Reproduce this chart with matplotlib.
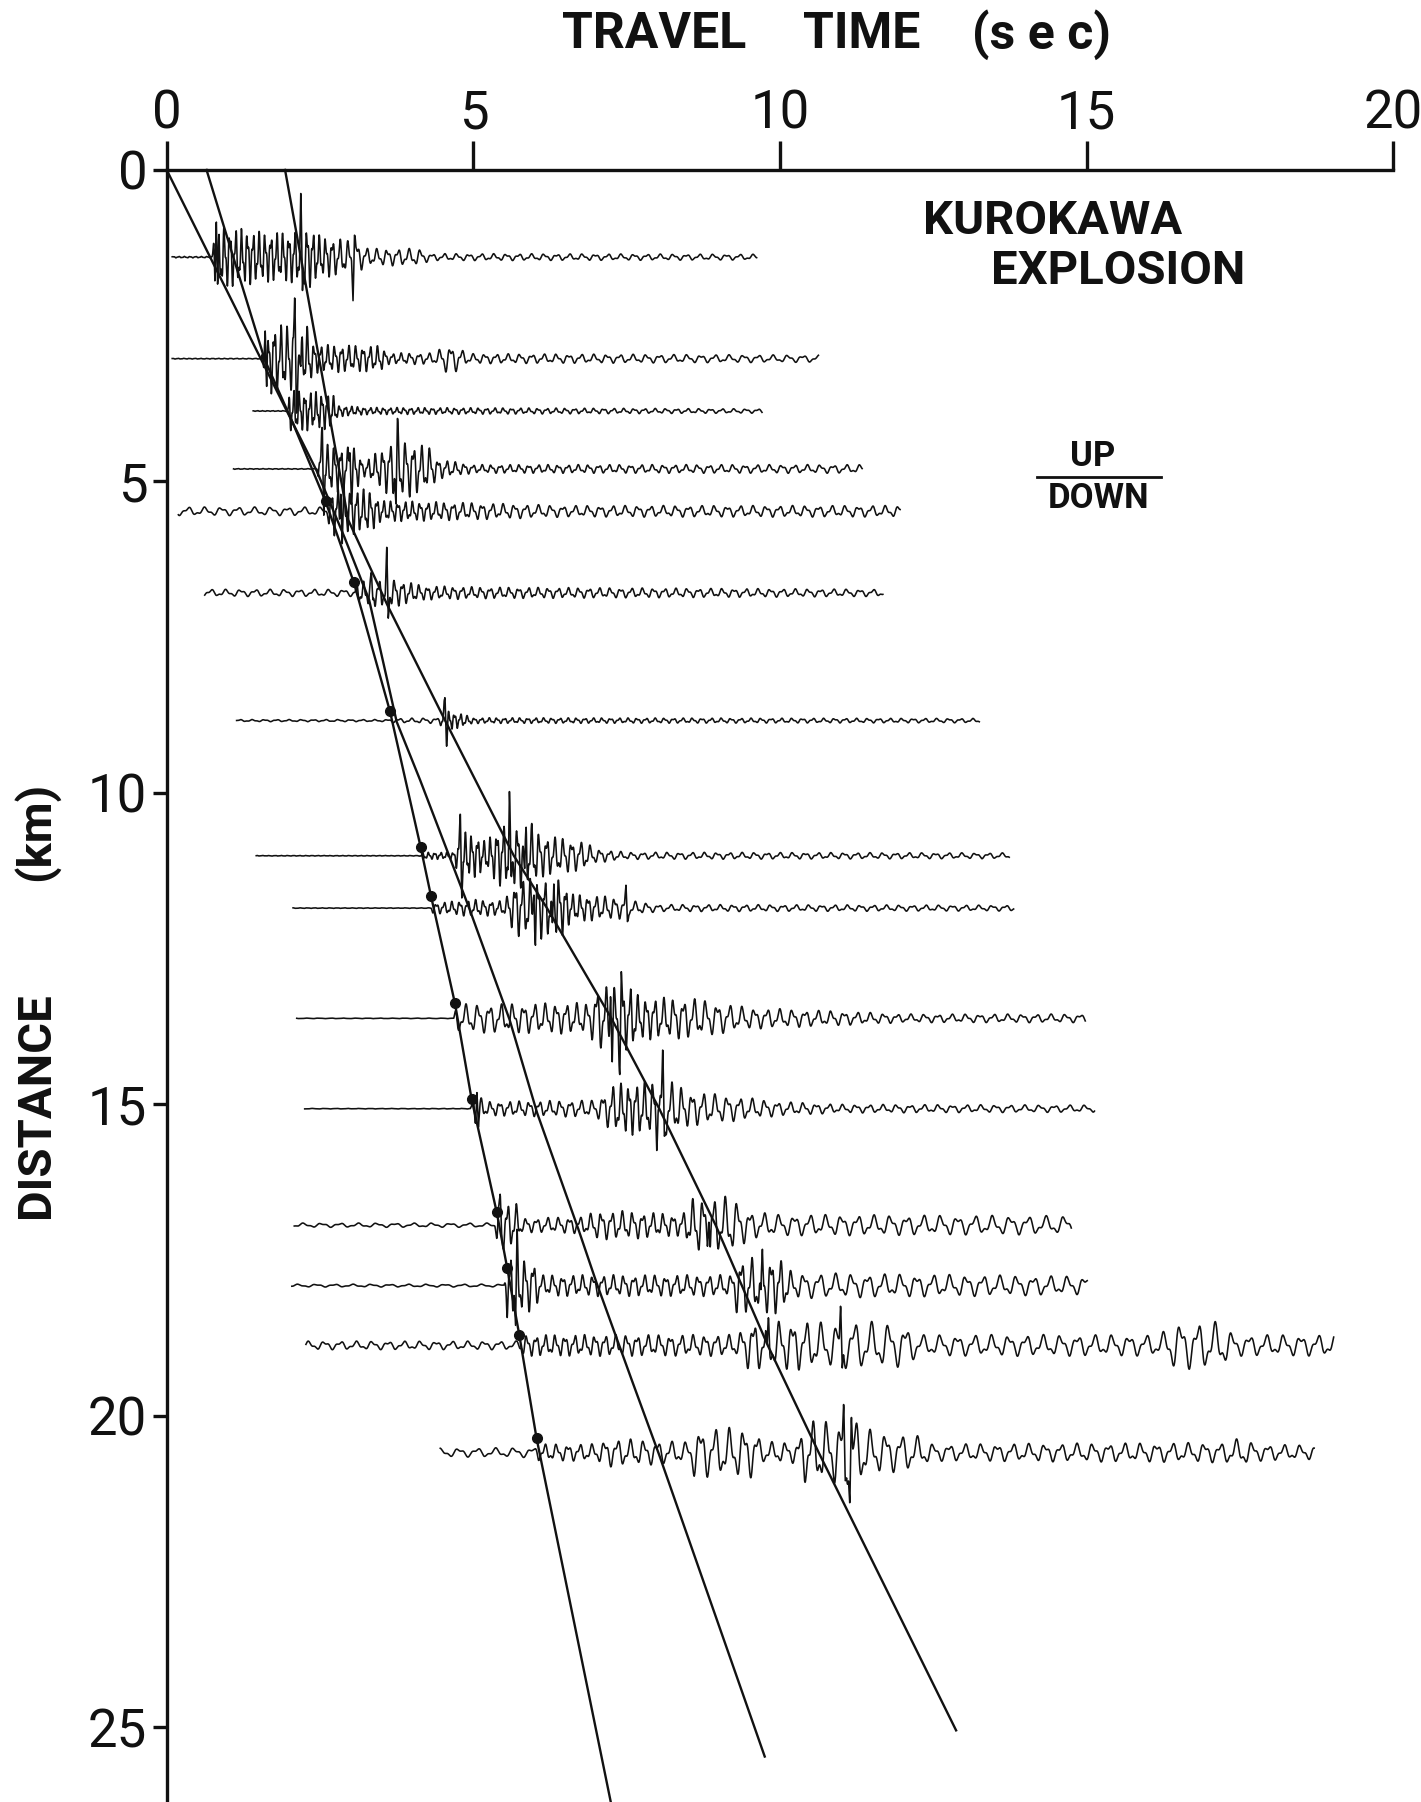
import numpy as np
import matplotlib
matplotlib.use("Agg")
import matplotlib.pyplot as plt

# record section, Kurokawa explosion
# travel time (s) on x, distance (km) on y (downwards)

time_ticks = [0, 5, 10, 15, 20]
dist_ticks = [0, 5, 10, 15, 20, 25]

# station distance, start and end of each trace (s)
trace_dist = [1.40, 3.03, 3.87, 4.80, 5.48, 6.79, 8.84, 11.01, 11.85,
              13.62, 15.07, 16.94, 17.91, 18.87, 20.59]
trace_start = [0.09, 0.09, 1.41, 1.09, 0.19, 0.62, 1.14, 1.46, 2.06,
               2.12, 2.25, 2.08, 2.04, 2.27, 4.46]
trace_end = [9.62, 10.63, 9.71, 11.34, 11.96, 11.68, 13.25, 13.74, 13.81,
             14.98, 15.13, 14.75, 15.01, 19.03, 18.71]

# envelope (time, half amplitude in km)
trace_env = [
    [(0.09, .01), (0.74, .01), (0.78, .45), (1.2, .4), (1.6, .35), (2.0, .35), (2.3, .45),
     (2.5, .3), (3.1, .22), (3.3, .12), (4.1, .12), (4.3, .05), (9.62, .04)],
    [(0.09, .005), (1.55, .005), (1.6, .5), (2.3, .45), (2.4, .2), (3.5, .18), (3.6, .08),
     (4.4, .08), (4.5, .2), (4.75, .18), (4.9, .07), (10.63, .05)],
    [(1.41, .005), (1.97, .005), (2.0, .3), (2.7, .25), (2.8, .08), (3.3, .05), (9.71, .03)],
    [(1.09, .005), (2.45, .005), (2.5, .35), (3.1, .3), (3.2, .1), (3.3, .15), (3.75, .45),
     (4.3, .3), (4.4, .15), (4.7, .1), (5.0, .06), (11.34, .06)],
    [(0.19, .06), (2.6, .06), (2.7, .35), (3.3, .3), (3.5, .15), (5.0, .12), (6.5, .08),
     (11.96, .08)],
    [(0.62, .05), (3.05, .05), (3.1, .15), (3.5, .2), (3.7, .2), (4.2, .1), (5.2, .08),
     (11.68, .05)],
    [(1.14, .015), (3.6, .015), (3.7, .03), (4.45, .04), (4.5, .15), (4.8, .1), (5.0, .04),
     (13.25, .03)],
    [(1.46, .004), (4.12, .004), (4.15, .05), (4.7, .05), (4.75, .35), (5.05, .3), (5.2, .2),
     (5.45, .45), (5.95, .45), (6.1, .3), (6.8, .2), (7.0, .1), (7.5, .05), (13.74, .04)],
    [(2.06, .004), (4.28, .004), (4.32, .07), (5.0, .12), (5.5, .1), (5.7, .4), (6.4, .45),
     (6.6, .2), (7.4, .15), (7.6, .1), (8.0, .05), (13.81, .04)],
    [(2.12, .004), (4.68, .004), (4.72, .2), (6.9, .22), (7.0, .45), (7.6, .45), (7.7, .3),
     (8.6, .28), (9.5, .15), (11.0, .1), (12.0, .06), (14.98, .06)],
    [(2.25, .004), (4.95, .004), (5.0, .25), (5.2, .1), (7.0, .12), (7.3, .35), (8.2, .4),
     (8.5, .25), (9.0, .2), (10.0, .1), (11.0, .06), (15.13, .05)],
    [(2.08, .03), (5.35, .03), (5.4, .35), (5.7, .3), (5.8, .1), (6.8, .12), (7.0, .2),
     (7.5, .2), (8.4, .15), (8.6, .4), (9.2, .4), (9.5, .2), (10.0, .15), (14.75, .13)],
    [(2.04, .02), (5.5, .02), (5.55, .45), (6.0, .35), (6.1, .15), (9.2, .15), (9.3, .4),
     (10.0, .4), (10.2, .18), (15.01, .13)],
    [(2.27, .06), (5.7, .06), (5.8, .15), (9.3, .15), (9.5, .35), (10.3, .35), (11.0, .3),
     (11.2, .35), (12.0, .3), (12.3, .15), (16.2, .15), (16.4, .33), (17.2, .33),
     (17.4, .15), (19.03, .15)],
    [(4.46, .06), (6.0, .07), (6.05, .12), (7.0, .12), (7.2, .2), (8.5, .15), (8.6, .35),
     (9.6, .35), (9.7, .15), (10.3, .15), (10.4, .45), (11.3, .45), (11.5, .3), (12.2, .25),
     (12.5, .12), (17.2, .14), (17.5, .2), (17.8, .12), (18.71, .1)],
]

# dominant period (time, s) along each trace
trace_period = [
    [(0, .09), (2.5, .1), (3.2, .16), (4.5, .2), (9.62, .22)],
    [(0, .09), (3.5, .12), (4.5, .18), (10.63, .25)],
    [(1.41, .08), (3.0, .1), (9.71, .2)],
    [(1.09, .1), (3.0, .11), (4.5, .14), (11.34, .22)],
    [(0.19, .27), (2.6, .27), (2.65, .1), (4.0, .12), (6.0, .2), (11.96, .22)],
    [(0.62, .24), (3.0, .24), (3.1, .12), (5.0, .15), (11.68, .22)],
    [(1.14, .2), (4.4, .2), (4.5, .08), (5.0, .12), (13.25, .2)],
    [(1.46, .1), (5.0, .1), (6.0, .12), (8.0, .2), (13.74, .22)],
    [(2.06, .12), (5.5, .13), (6.5, .11), (8.0, .2), (13.81, .22)],
    [(2.12, .2), (4.7, .2), (7.0, .16), (7.5, .12), (9.0, .2), (14.98, .24)],
    [(2.25, .2), (5.0, .15), (7.0, .18), (7.5, .12), (9.0, .2), (15.13, .25)],
    [(2.08, .3), (5.3, .3), (5.4, .12), (6.0, .18), (8.6, .16), (10.0, .25), (14.75, .3)],
    [(2.04, .3), (5.5, .3), (5.55, .1), (6.1, .16), (9.0, .18), (10.0, .15), (10.5, .26),
     (15.01, .28)],
    [(2.27, .26), (5.7, .26), (5.8, .15), (9.3, .2), (10.3, .22), (11.0, .28), (19.03, .28)],
    [(4.46, .3), (6.0, .3), (6.05, .18), (8.6, .24), (10.4, .22), (12.0, .26), (18.71, .26)],
]

# single large swings (time, km; negative = downwards first)
trace_spikes = [
    [(0.82, .75), (2.2, .6), (3.05, -.45)],
    [(1.62, .9), (2.1, .8), (2.2, -.6)],
    [],
    [(2.55, .55), (3.0, .5), (3.75, -.45)],
    [(2.85, .45)],
    [(3.6, .5), (3.35, .25)],
    [(4.55, .45)],
    [(4.8, .45), (5.6, .8), (5.85, -.6)],
    [(6.0, .5), (6.3, -.7), (7.5, .25)],
    [(7.25, .6), (7.4, -.55)],
    [(5.07, .35), (8.1, .75), (8.0, -.5)],
    [(5.45, .4), (8.85, .5)],
    [(5.7, -.55), (9.7, -.5)],
    [(11.0, .55), (9.8, -.4)],
    [(11.05, .55), (11.15, -.7)],
]

# onset picks (dots)
pick_t = [2.59, 3.05, 3.64, 4.14, 4.31, 4.70, 4.97, 5.38, 5.55, 5.75, 6.03]
pick_d = [5.32, 6.62, 8.69, 10.87, 11.66, 13.38, 14.91, 16.73, 17.62, 18.71, 20.36]

# travel time curves
line_a_t = [0, 2.06, 2.59, 3.05, 3.64, 4.14, 4.31, 4.70, 4.97, 5.38, 5.55, 5.75, 6.03, 7.24]
line_a_d = [0, 4.07, 5.32, 6.62, 8.69, 10.87, 11.66, 13.38, 14.91, 16.73, 17.62, 18.71,
            20.36, 26.2]
line_b_t = [0.65, 1.6, 2.06, 2.45, 2.9, 3.3, 3.75, 4.13, 4.92, 5.59, 6.04, 6.71, 7.01,
            7.58, 8.03, 9.75]
line_b_d = [0, 3.05, 4.07, 4.84, 5.9, 6.9, 8.86, 9.79, 11.82, 13.64, 15.14, 17.0, 17.87,
            19.42, 20.63, 25.47]
line_c_t = [1.93, 2.96, 3.61, 4.55, 5.66, 6.2, 7.25, 8.03, 8.95, 9.8, 10.63, 12.87]
line_c_d = [0, 5.62, 7.01, 8.86, 11.01, 11.85, 13.62, 15.07, 16.94, 18.87, 20.59, 25.05]

INK = "#111111"
FONT = ['Roboto', 'Liberation Sans', 'DejaVu Sans']
plt.rcParams['font.family'] = FONT

fig = plt.figure(figsize=(14.21, 18.02), dpi=100)
ax = fig.add_axes([0.1173, 0.0, 0.8633, 0.9057])
ax.set_xlim(0, 20)
ax.set_ylim(26.2, 0)

for sp in ['right', 'bottom']:
    ax.spines[sp].set_visible(False)
for sp in ['top', 'left']:
    ax.spines[sp].set_linewidth(2.4)
    ax.spines[sp].set_color(INK)

ax.xaxis.set_ticks_position('top')
ax.set_xticks(time_ticks)
ax.set_yticks(dist_ticks)
ax.set_xticklabels([str(v) for v in time_ticks])
ax.set_yticklabels([str(v) for v in dist_ticks])
ax.tick_params(axis='x', direction='out', length=21, width=2.4, color=INK,
               labelsize=38, pad=1, labelcolor=INK)
ax.tick_params(axis='y', direction='out', length=10, width=2.4, color=INK,
               labelsize=38, pad=4, labelcolor=INK)

# waveforms
dt = 0.004
for i in range(len(trace_dist)):
    t = np.arange(trace_start[i], trace_end[i], dt)
    et, ev = zip(*trace_env[i])
    pt, pv = zip(*trace_period[i])
    amp = np.interp(t, et, ev)
    per = np.interp(t, pt, pv)
    phi = np.cumsum(2 * np.pi * dt / per) + i
    sig = amp * (np.sin(phi) + 0.45 * np.sin(2.3 * phi + 0.9)) / 1.25
    for ts, a in trace_spikes[i]:
        sig += np.interp(t, [ts - 0.035, ts - 0.012, ts + 0.012, ts + 0.035],
                         [0, a, -0.8 * a, 0])
    ax.plot(t, trace_dist[i] - sig, color=INK, lw=1.15, solid_joinstyle='round')

for lt, ld in [(line_a_t, line_a_d), (line_b_t, line_b_d), (line_c_t, line_c_d)]:
    ax.plot(lt, ld, color=INK, lw=1.7, clip_on=False)

ax.plot(pick_t, pick_d, 'o', color=INK, ms=7, zorder=5)

# labels
W, H = 1421, 1802
def ftext(x, y, s, **kw):
    fig.text(x / W, 1 - y / H, s, ha='center', va='center', color=INK,
             fontweight='bold', **kw)

ftext(654, 35, 'TRAVEL', fontsize=36)
ftext(862, 35, 'TIME', fontsize=36)
ftext(1042, 35, '(s e c)', fontsize=36)
ftext(36, 1105, 'DISTANCE', fontsize=34, rotation=90)
ftext(36, 831, '(km)', fontsize=34, rotation=90)

ftext(1053, 221, 'KUROKAWA', fontsize=34)
ftext(1118, 271, 'EXPLOSION', fontsize=34)
ftext(1093, 456, 'UP', fontsize=25)
ftext(1099, 498, 'DOWN', fontsize=25)
fig.add_artist(plt.Line2D([1037 / W, 1161 / W], [1 - 477 / H, 1 - 477 / H],
                          color=INK, lw=2.0))

fig.savefig('out.png', dpi=100, facecolor='white')
